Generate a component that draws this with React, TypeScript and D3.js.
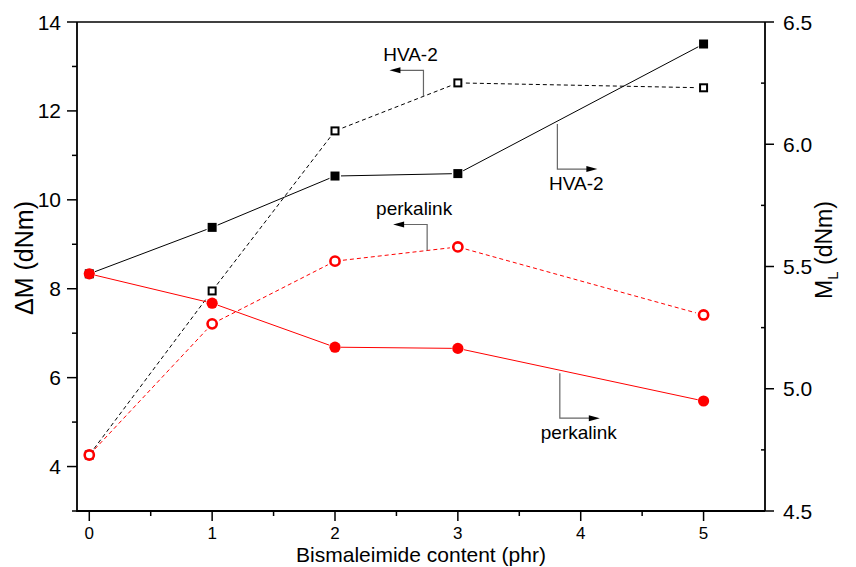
import React from 'react';
import * as d3 from 'd3';

// ---- data ----
const xValues = [0, 1, 2, 3, 5];
const hvaDeltaM = [4.26, 7.95, 11.55, 12.63, 12.52];
const perkDeltaM = [4.26, 7.21, 8.62, 8.94, 7.41];
const hvaML = [5.47, 5.66, 5.87, 5.88, 6.41];
const perkML = [5.47, 5.35, 5.17, 5.165, 4.95];
const xTicks = [0, 1, 2, 3, 4, 5];
const xMinorTicks = [0.5, 1.5, 2.5, 3.5, 4.5];
const leftTicks = [4, 6, 8, 10, 12, 14];
const leftMinorTicks = [3, 5, 7, 9, 11, 13];
const rightTicks = [4.5, 5.0, 5.5, 6.0, 6.5];
const rightMinorTicks = [4.75, 5.25, 5.75, 6.25];

const W = 856;
const H = 567;
const L = 77, R = 765, T = 22, B = 511;
const FONT = '"Liberation Sans", Arial, sans-serif';

const xs = d3.scaleLinear().domain([-0.1, 5.5]).range([L, R]);
const yl = d3.scaleLinear().domain([3, 14]).range([B, T]);
const yr = d3.scaleLinear().domain([4.5, 6.5]).range([B, T]);

type Pt = [number, number];

function pts(vals: number[], ys: d3.ScaleLinear<number, number>): Pt[] {
  return xValues.map((x, i) => [xs(x), ys(vals[i])]);
}

function gapSegments(p: Pt[], gap: number): string {
  let d = '';
  for (let i = 0; i < p.length - 1; i++) {
    const [x1, y1] = p[i];
    const [x2, y2] = p[i + 1];
    const len = Math.hypot(x2 - x1, y2 - y1);
    const ux = (x2 - x1) / len, uy = (y2 - y1) / len;
    d += `M${x1 + ux * gap},${y1 + uy * gap}L${x2 - ux * gap},${y2 - uy * gap}`;
  }
  return d;
}

function interp(vals: number[], x: number): number {
  for (let i = 0; i < xValues.length - 1; i++) {
    if (x >= xValues[i] && x <= xValues[i + 1]) {
      const t = (x - xValues[i]) / (xValues[i + 1] - xValues[i]);
      return vals[i] + t * (vals[i + 1] - vals[i]);
    }
  }
  return vals[vals.length - 1];
}

type Ann = { label: string; vals: number[]; ys: d3.ScaleLinear<number, number>; x: number; dir: 'up-left' | 'down-right' };
const annotations: Ann[] = [
  { label: 'HVA-2', vals: hvaDeltaM, ys: yl, x: 2.72, dir: 'up-left' },
  { label: 'perkalink', vals: perkDeltaM, ys: yl, x: 2.75, dir: 'up-left' },
  { label: 'HVA-2', vals: hvaML, ys: yr, x: 3.81, dir: 'down-right' },
  { label: 'perkalink', vals: perkML, ys: yr, x: 3.83, dir: 'down-right' },
];

function Annotation({ a }: { a: Ann }) {
  const ax = xs(a.x);
  const ay = a.ys(interp(a.vals, a.x));
  if (a.dir === 'up-left') {
    const cy = ay - 26;
    const tipX = ax - 34;
    return (
      <g>
        <path d={`M${ax},${ay}L${ax},${cy}L${tipX + 10},${cy}`} fill="none" stroke="#666" strokeWidth={1.2} />
        <path d={`M${tipX},${cy}L${tipX + 11},${cy - 3}L${tipX + 11},${cy + 3}Z`} fill="#000" />
        <text x={ax - 13} y={cy - 9} textAnchor="middle" fontFamily={FONT} fontSize={19}>{a.label}</text>
      </g>
    );
  }
  const cy = ay + 48;
  const tipX = ax + 40;
  return (
    <g>
      <path d={`M${ax},${ay + 3}L${ax},${cy}L${tipX - 10},${cy}`} fill="none" stroke="#666" strokeWidth={1.2} />
      <path d={`M${tipX},${cy}L${tipX - 11},${cy - 3}L${tipX - 11},${cy + 3}Z`} fill="#000" />
      <text x={ax + 19} y={cy + 21} textAnchor="middle" fontFamily={FONT} fontSize={19}>{a.label}</text>
    </g>
  );
}

export default function App() {
  const hvaDM = pts(hvaDeltaM, yl);
  const perkDM = pts(perkDeltaM, yl);
  const hvaL = pts(hvaML, yr);
  const perkL = pts(perkML, yr);
  const sq = 9;
  return (
    <svg width={W} height={H} style={{ position: 'absolute', left: 0, top: 0 }} fontFamily={FONT}>
      <rect width={W} height={H} fill="#fff" />
      {/* series lines */}
      <path d={gapSegments(hvaDM, 8)} stroke="#000" strokeWidth={1} strokeDasharray="4,3" fill="none" />
      <path d={gapSegments(hvaL, 6)} stroke="#000" strokeWidth={1} fill="none" />
      <path d={gapSegments(perkDM, 8)} stroke="#ff0000" strokeWidth={1} strokeDasharray="4,3" fill="none" />
      <path d={gapSegments(perkL, 6)} stroke="#ff0000" strokeWidth={1} fill="none" />
      {/* markers */}
      {hvaDM.map(([x, y], i) => (
        <rect key={'hd' + i} x={x - sq / 2 + 1} y={y - sq / 2 + 1} width={sq - 2} height={sq - 2} fill="#fff" stroke="#000" strokeWidth={2} />
      ))}
      {hvaL.map(([x, y], i) => (
        <rect key={'hl' + i} x={x - sq / 2} y={y - sq / 2} width={sq} height={sq} fill="#000" />
      ))}
      {perkDM.map(([x, y], i) => (
        <circle key={'pd' + i} cx={x} cy={y} r={4.6} fill="#fff" stroke="#ff0000" strokeWidth={2.6} />
      ))}
      {perkL.map(([x, y], i) => (
        <circle key={'pl' + i} cx={x} cy={y} r={5.6} fill="#ff0000" />
      ))}
      {/* annotations */}
      {annotations.map((a, i) => <Annotation key={i} a={a} />)}
      {/* frame */}
      <path d={`M${L},${T}L${R},${T}`} stroke="#000" strokeWidth={1.5} />
      <path d={`M${L},${T}L${L},${B}L${R},${B}`} stroke="#000" strokeWidth={1.8} fill="none" />
      <path d={`M${R},${T}L${R},${B}`} stroke="#000" strokeWidth={1.8} />
      {/* x axis ticks */}
      {xTicks.map(t => (
        <g key={'xt' + t}>
          <line x1={xs(t)} x2={xs(t)} y1={B} y2={B + 10} stroke="#000" strokeWidth={1.5} />
          <text x={xs(t)} y={B + 28} textAnchor="middle" fontSize={17}>{t}</text>
        </g>
      ))}
      {xMinorTicks.map(t => (
        <line key={'xm' + t} x1={xs(t)} x2={xs(t)} y1={B} y2={B + 5} stroke="#000" strokeWidth={1.5} />
      ))}
      {/* left axis ticks */}
      {leftTicks.map(t => (
        <g key={'lt' + t}>
          <line x1={L - 10} x2={L} y1={yl(t)} y2={yl(t)} stroke="#000" strokeWidth={1.5} />
          <text x={L - 16} y={yl(t) + 7.5} textAnchor="end" fontSize={21}>{t}</text>
        </g>
      ))}
      {leftMinorTicks.map(t => (
        <line key={'lm' + t} x1={L - 5} x2={L} y1={yl(t)} y2={yl(t)} stroke="#000" strokeWidth={1.5} />
      ))}
      {/* right axis ticks */}
      {rightTicks.map(t => (
        <g key={'rt' + t}>
          <line x1={R} x2={R + 9} y1={yr(t)} y2={yr(t)} stroke="#000" strokeWidth={1.5} />
          <text x={R + 18} y={yr(t) + 7.5} textAnchor="start" fontSize={21}>{t.toFixed(1)}</text>
        </g>
      ))}
      {rightMinorTicks.map(t => (
        <line key={'rm' + t} x1={R - 4} x2={R} y1={yr(t)} y2={yr(t)} stroke="#000" strokeWidth={1.5} />
      ))}
      {/* axis titles */}
      <text x={(L + R) / 2} y={562} textAnchor="middle" fontSize={21}>Bismaleimide content (phr)</text>
      <text transform={`translate(33,${258}) rotate(-90)`} textAnchor="middle" fontSize={25}>ΔM (dNm)</text>
      <text transform={`translate(832,${250}) rotate(-90)`} textAnchor="middle" fontSize={23}>
        M<tspan fontSize={15} dy={6}>L</tspan><tspan dy={-6}>{'\u00a0(dNm)'}</tspan>
      </text>
    </svg>
  );
}
